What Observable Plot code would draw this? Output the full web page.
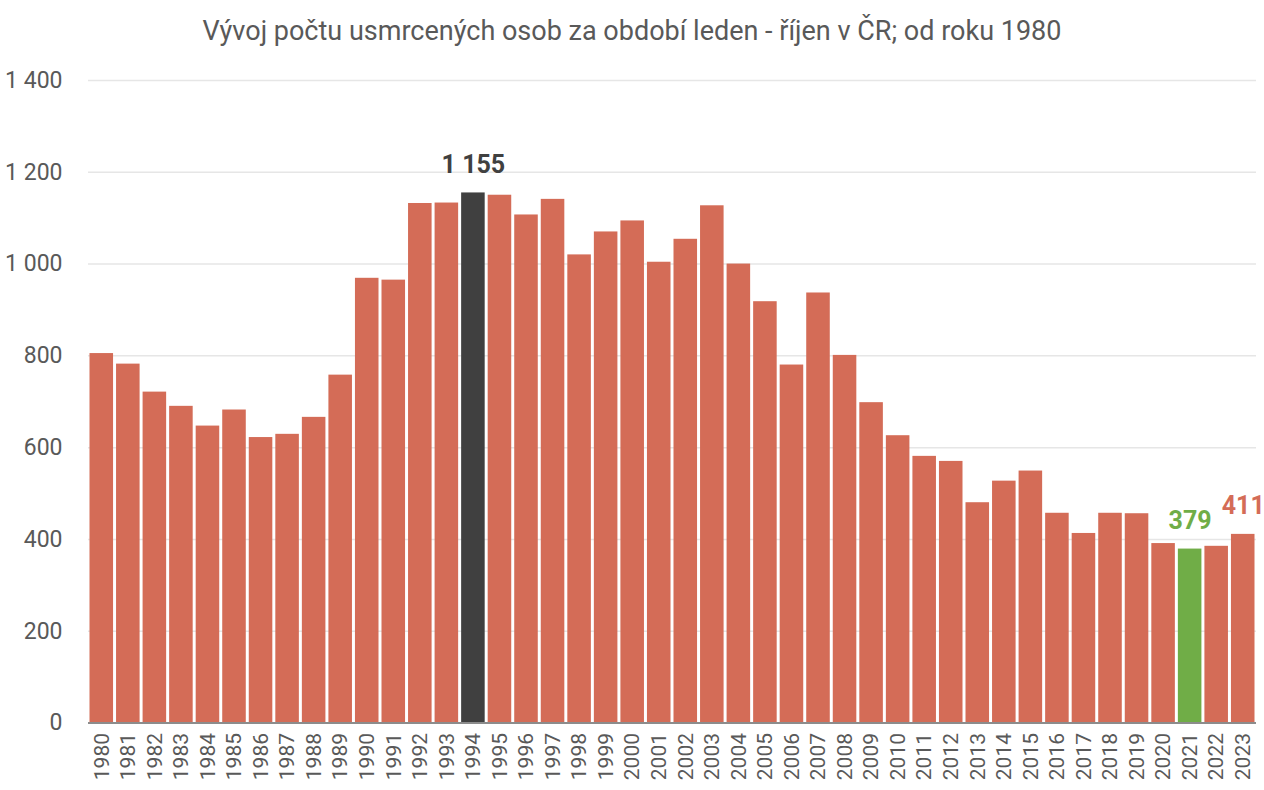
<!DOCTYPE html>
<html>
<head>
<meta charset="utf-8">
<script src="https://cdn.jsdelivr.net/npm/d3@7"></script>
<script src="https://cdn.jsdelivr.net/npm/@observablehq/plot@0.6"></script>
<style>
  body { margin: 0; background: #fff; }
  #title { height: 60px; line-height: 62px; text-align: center; font-family: Roboto, sans-serif; font-size: 27px; color: #595959; }
  #chart svg { display: block; }
</style>
</head>
<body>
<div id="title">Vývoj počtu usmrcených osob za období leden - říjen v ČR; od roku 1980</div>
<div id="chart"></div>
<script>
const years = ["1980","1981","1982","1983","1984","1985","1986","1987","1988","1989",
  "1990","1991","1992","1993","1994","1995","1996","1997","1998","1999",
  "2000","2001","2002","2003","2004","2005","2006","2007","2008","2009",
  "2010","2011","2012","2013","2014","2015","2016","2017","2018","2019",
  "2020","2021","2022","2023"];
const deaths = [805,782,721,690,647,682,622,629,666,758,
  969,965,1132,1133,1155,1150,1107,1141,1020,1070,
  1094,1004,1054,1127,1000,918,780,937,801,698,
  626,581,570,480,527,549,457,413,457,456,
  391,379,385,411];
const yTicks = [0,200,400,600,800,1000,1200,1400];
const labelled = ["1994","2021","2023"];
const colorMax = "#404040", colorMin = "#70ad47", colorBar = "#d46c57";

const data = years.map((y, i) => ({year: y, value: deaths[i]}));
const colorOf = y => y === "1994" ? colorMax : y === "2021" ? colorMin : colorBar;
const fmt = d3.formatLocale({thousands: " ", grouping: [3], decimal: ","}).format(",");
const font = 'Roboto, sans-serif';

const chart = Plot.plot({
  width: 1264,
  height: 730,
  marginTop: 20,
  marginLeft: 88,
  marginRight: 8,
  marginBottom: 67.5,
  style: {fontFamily: font, color: "#595959", background: "#fff"},
  x: {type: "band", domain: years, padding: 0, round: false, label: null},
  y: {domain: [0, 1400], label: null},
  marks: [
    Plot.gridY(yTicks, {stroke: "#e6e6e6", strokeOpacity: 1, strokeWidth: 1.5}),
    Plot.axisY(yTicks, {tickSize: 0, tickPadding: 26, tickFormat: fmt, fontSize: 23, fill: "#595959"}),
    Plot.axisX({tickSize: 0, tickPadding: 10, tickRotate: -90, fontSize: 21, fill: "#595959", label: null}),
    Plot.barY(data, {x: "year", y: "value", fill: d => colorOf(d.year), insetLeft: 1.5, insetRight: 1.5}),
    Plot.ruleY([0], {stroke: "#8c8c8c", strokeWidth: 2}),
    Plot.text(data.filter(d => labelled.includes(d.year)), {
      x: "year", y: "value", text: d => fmt(d.value), dy: -28,
      fill: d => colorOf(d.year), fontSize: 25, fontWeight: "bold", lineAnchor: "middle"
    })
  ]
});
document.getElementById("chart").appendChild(chart);
</script>
</body>
</html>
